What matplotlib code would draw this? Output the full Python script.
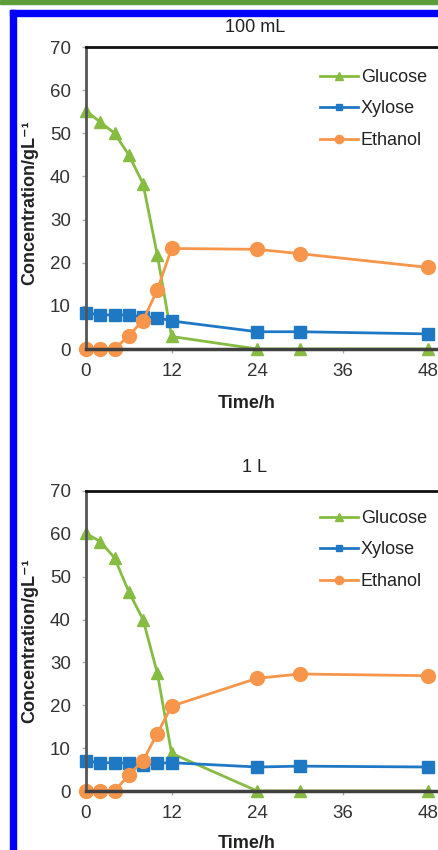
import matplotlib
matplotlib.use("Agg")
import matplotlib.pyplot as plt
from matplotlib.patches import Rectangle

plt.rcParams['font.family'] = ['Liberation Sans', 'DejaVu Sans']

# sampling times (h)
time_h = [0, 2, 4, 6, 8, 10, 12, 24, 30, 48]

# 100 mL flask
glucose_100ml = [55.2, 52.6, 50.0, 45.0, 38.3, 21.8, 2.9, 0.0, 0.0, 0.0]
xylose_100ml = [8.4, 7.9, 7.9, 7.9, 7.4, 7.3, 6.5, 4.0, 4.0, 3.5]
ethanol_100ml = [0.0, 0.0, 0.0, 3.1, 6.6, 13.7, 23.3, 23.1, 22.1, 18.9]

# 1 L fermenter
glucose_1l = [60.1, 58.2, 54.4, 46.5, 40.0, 27.5, 8.8, 0.0, 0.0, 0.0]
xylose_1l = [7.0, 6.6, 6.6, 6.5, 6.1, 6.5, 6.6, 5.6, 5.8, 5.6]
ethanol_1l = [0.0, 0.0, 0.0, 3.7, 7.1, 13.4, 19.8, 26.3, 27.3, 26.9]

series_names = ["Glucose", "Xylose", "Ethanol"]
x_ticks = [0, 12, 24, 36, 48]
y_ticks = [0, 10, 20, 30, 40, 50, 60, 70]

GREEN = '#86BC42'
BLUE = '#1F78C4'
ORANGE = '#F7964A'

W, H = 439, 850
fig = plt.figure(figsize=(W / 100, H / 100), dpi=100)

# page decoration: green rule at top, blue frame
fig.patches.append(Rectangle((0, 1 - 4 / H), 1, 4 / H, transform=fig.transFigure,
                             color='#5E9E3A', zorder=0))
fig.patches.append(Rectangle((10 / W, 1 - 16 / H), 1, 6 / H, transform=fig.transFigure,
                             color='#0000FF', zorder=0))
fig.patches.append(Rectangle((10 / W, 0), 6 / W, 1 - 10 / H, transform=fig.transFigure,
                             color='#0000FF', zorder=0))


def make_panel(top_px, bottom_px, title, title_y, label_y, ylab_y, legend_top,
               glucose, xylose, ethanol):
    ax = fig.add_axes([86 / W, 1 - bottom_px / H, (W - 86) / W, (bottom_px - top_px) / H])
    ax.plot(time_h, glucose, '-^', color=GREEN, lw=2.0, ms=9, clip_on=False,
            label=series_names[0])
    ax.plot(time_h, xylose, '-s', color=BLUE, lw=2.0, ms=8, clip_on=False,
            label=series_names[1])
    ax.plot(time_h, ethanol, '-o', color=ORANGE, lw=2.0, ms=10, clip_on=False,
            label=series_names[2])

    ax.set_xlim(0, 49.5)
    ax.set_ylim(0, 70)
    ax.set_xticks(x_ticks)
    ax.set_yticks(y_ticks)
    ax.tick_params(axis='both', labelsize=13.5, length=3, width=1, direction='out')
    ax.tick_params(axis='y', pad=8, colors='#aaaaaa', labelcolor='#333333')
    ax.tick_params(axis='x', pad=7, colors='#aaaaaa', labelcolor='#333333')

    ax.spines['right'].set_visible(False)
    ax.spines['top'].set_color('#111111')
    ax.spines['top'].set_linewidth(2)
    ax.spines['left'].set_color('#555555')
    ax.spines['left'].set_linewidth(2)
    ax.spines['bottom'].set_color('#404040')
    ax.spines['bottom'].set_linewidth(2.5)

    fig.text(255 / W, 1 - title_y / H, title, ha='center', va='center',
             fontsize=13, color='#222222')
    fig.text(247 / W, 1 - label_y / H, "Time/h", ha='center', va='center',
             fontsize=13, fontweight='bold', color='#222222')
    fig.text(30 / W, 1 - ylab_y / H, "Concentration/gL⁻¹", ha='center',
             va='center', rotation=90, fontsize=13, fontweight='bold', color='#222222')

    leg = ax.legend(loc='upper left', bbox_to_anchor=(320 / W, 1 - legend_top / H),
                    bbox_transform=fig.transFigure, frameon=False, fontsize=13,
                    borderpad=0, borderaxespad=0, handlelength=2.1,
                    handletextpad=0.15, labelspacing=0.8, markerscale=0.6)
    for t in leg.get_texts():
        t.set_color('#222222')
    return ax


make_panel(47, 349, "100 mL", 27, 403, 203, 69,
           glucose_100ml, xylose_100ml, ethanol_100ml)
make_panel(491, 791, "1 L", 468, 843, 641, 510,
           glucose_1l, xylose_1l, ethanol_1l)

fig.savefig("out.png", dpi=100)
